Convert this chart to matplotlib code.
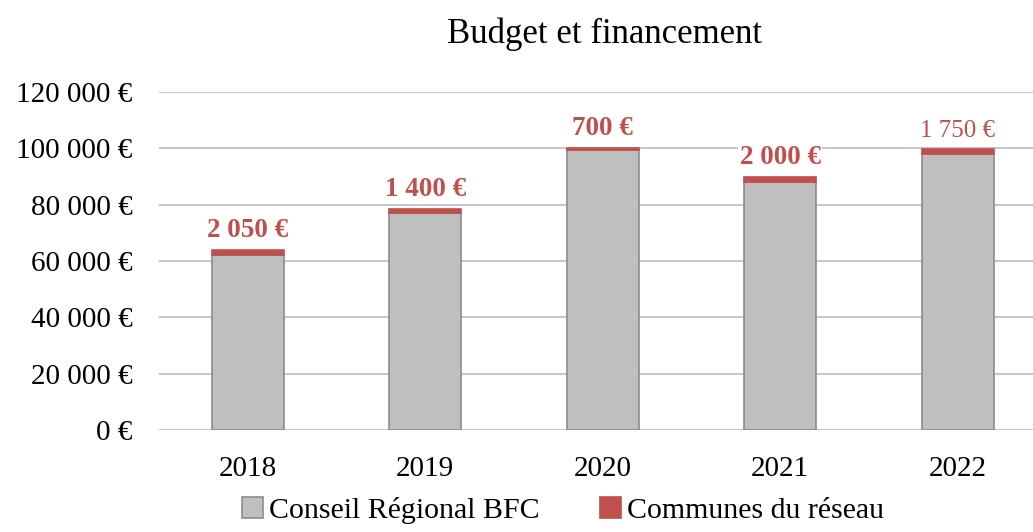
import matplotlib
matplotlib.use("Agg")
import matplotlib.pyplot as plt
from matplotlib.ticker import FuncFormatter

# data
years = ["2018", "2019", "2020", "2021", "2022"]
conseil = [62000, 77000, 99300, 88000, 97900]
communes = [2050, 1400, 700, 2000, 1750]
labels = ["2 050 €", "1 400 €", "700 €", "2 000 €", "1 750 €"]

plt.rcParams["font.family"] = ["Liberation Serif", "DejaVu Serif"]

fig = plt.figure(figsize=(10.33, 5.32), dpi=100)
ax = fig.add_axes([159 / 1033, 102 / 532, 874 / 1033, 338 / 532])

x = range(len(years))
ax.bar(x, conseil, width=0.406, color="#bfbfbf", edgecolor="#8c8c8c",
       linewidth=1.2, label="Conseil Régional BFC", zorder=3)
ax.bar(x, communes, width=0.406, bottom=conseil, color="#c0504d",
       edgecolor="#c0504d", linewidth=1.2,
       label="Communes du réseau", zorder=4)

for i in x:
    top = conseil[i] + communes[i]
    bold = "normal" if i == 4 else "bold"
    size = 18 if i == 4 else 19.5
    ax.annotate(labels[i], (i, top), xytext=(0, 5), textcoords="offset points",
                ha="center", va="bottom", color="#c0504d", fontsize=size,
                fontweight=bold, zorder=5,
                bbox=dict(facecolor="white", edgecolor="none", pad=1))

ax.set_xlim(-0.5, 4.424)
ax.set_ylim(0, 120000)
ax.set_yticks(range(0, 120001, 20000))
ax.yaxis.set_major_formatter(FuncFormatter(
    lambda v, p: "{:,.0f} €".format(v).replace(",", " ")))
ax.set_xticks(list(x))
ax.set_xticklabels(years)
ax.tick_params(axis="y", length=0, pad=19, labelsize=21)
ax.tick_params(axis="x", length=0, pad=19, labelsize=21)
ax.grid(axis="y", color="#c8c8c8", linewidth=1.5, zorder=0)
for s in ax.spines.values():
    s.set_visible(False)

fig.text(0.585, 0.935, "Budget et financement", ha="center", va="center",
         fontsize=25)

fig.legend(loc="lower center", bbox_to_anchor=(0.545, -0.035), ncol=2,
           frameon=False, fontsize=21.5, handlelength=0.7, handleheight=0.7,
           handletextpad=0.2, columnspacing=2.0)

fig.savefig("out.png", dpi=100)
